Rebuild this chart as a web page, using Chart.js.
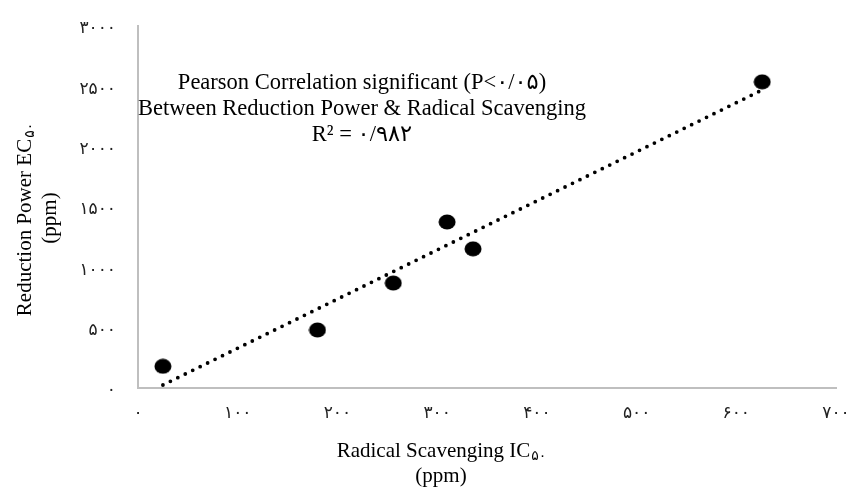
<!DOCTYPE html>
<html>
<head>
<meta charset="utf-8">
<script src="https://cdn.jsdelivr.net/npm/chart.js@4.4.1/dist/chart.umd.min.js"></script>
<style>
  html, body { margin: 0; padding: 0; background: #fff; }
</style>
</head>
<body>
<canvas id="chart" width="852" height="488"></canvas>
<script>
// values
const scavengingIC50 = [25, 180, 256, 310, 336, 626];
const reductionEC50 = [180, 481, 870, 1376, 1153, 2537];
const trendX = [25, 626];
const trendY = [25, 2470];
const xTicks = [0, 100, 200, 300, 400, 500, 600, 700];
const yTicks = [0, 500, 1000, 1500, 2000, 2500, 3000];

const notes = [
  "Pearson Correlation significant (P<۰/۰۵)",
  "Between Reduction Power & Radical Scavenging",
  "R² = ۰/۹۸۲"
];

const FONT = '"Liberation Serif", "DejaVu Serif", "DejaVu Sans", serif';
const toFa = v => String(v).replace(/\d/g, d => "۰۱۲۳۴۵۶۷۸۹"[d]);

// slightly wide black dot like the original markers
const dot = document.createElement("canvas");
dot.width = 18; dot.height = 16;
{
  const c = dot.getContext("2d");
  c.fillStyle = "#000";
  c.beginPath();
  c.ellipse(9, 8, 8.5, 7.5, 0, 0, Math.PI * 2);
  c.fill();
}

function subText(ctx, main, sub, cx, cy) {
  ctx.font = "21px " + FONT;
  const w1 = ctx.measureText(main).width;
  ctx.font = "14px " + FONT;
  const w2 = ctx.measureText(sub).width;
  const x0 = cx - (w1 + w2) / 2;
  ctx.textAlign = "left";
  ctx.font = "21px " + FONT;
  ctx.fillText(main, x0, cy);
  ctx.font = "14px " + FONT;
  ctx.fillText(sub, x0 + w1 + 1, cy + 5);
}

const textPlugin = {
  id: "texts",
  afterDraw(chart) {
    const ctx = chart.ctx;
    ctx.save();
    ctx.fillStyle = "#000";
    ctx.textBaseline = "middle";
    ctx.direction = "ltr";

    // notes in the plot
    ctx.font = "22.5px " + FONT;
    ctx.textAlign = "center";
    notes.forEach((t, i) => ctx.fillText(t, 362, 83 + i * 26));

    // x title
    subText(ctx, "Radical Scavenging IC", "۵۰", 441, 451);
    ctx.font = "21px " + FONT;
    ctx.textAlign = "center";
    ctx.fillText("(ppm)", 441, 476);

    // y title
    ctx.translate(25, 220);
    ctx.rotate(-Math.PI / 2);
    subText(ctx, "Reduction Power EC", "۵۰", 0, 0);
    ctx.font = "21px " + FONT;
    ctx.textAlign = "center";
    ctx.fillText("(ppm)", 2, 25);
    ctx.restore();
  }
};

new Chart(document.getElementById("chart"), {
  type: "scatter",
  data: {
    datasets: [
      {
        data: scavengingIC50.map((x, i) => ({ x, y: reductionEC50[i] })),
        pointStyle: dot,
        order: 1
      },
      {
        type: "line",
        data: trendX.map((x, i) => ({ x, y: trendY[i] })),
        borderColor: "#000",
        borderWidth: 3.8,
        borderDash: [0, 8.3],
        borderCapStyle: "round",
        pointRadius: 0,
        fill: false,
        order: 2
      }
    ]
  },
  options: {
    responsive: false,
    animation: false,
    layout: { padding: { top: 26, right: 16, left: 0, bottom: 0 } },
    plugins: { legend: { display: false }, tooltip: { enabled: false } },
    scales: {
      x: {
        type: "linear",
        min: 0, max: 700,
        afterBuildTicks: s => { s.ticks = xTicks.map(v => ({ value: v })); },
        afterFit: s => { s.height = 100; s.paddingLeft = 0; s.paddingRight = 0; },
        grid: { display: false, drawTicks: false },
        border: { display: true, color: "#bfbfbf", width: 2 },
        ticks: {
          padding: 15,
          color: "#222",
          font: { family: FONT, size: 17 },
          callback: v => toFa(v)
        }
      },
      y: {
        min: 0, max: 3000,
        afterBuildTicks: s => { s.ticks = yTicks.map(v => ({ value: v })); },
        afterFit: s => { s.width = 138; s.paddingTop = 0; s.paddingBottom = 0; },
        grid: { display: false, drawTicks: false },
        border: { display: true, color: "#bfbfbf", width: 2 },
        ticks: {
          padding: 22,
          labelOffset: 3,
          color: "#222",
          font: { family: FONT, size: 17 },
          callback: v => toFa(v)
        }
      }
    }
  },
  plugins: [textPlugin]
});
</script>
</body>
</html>
